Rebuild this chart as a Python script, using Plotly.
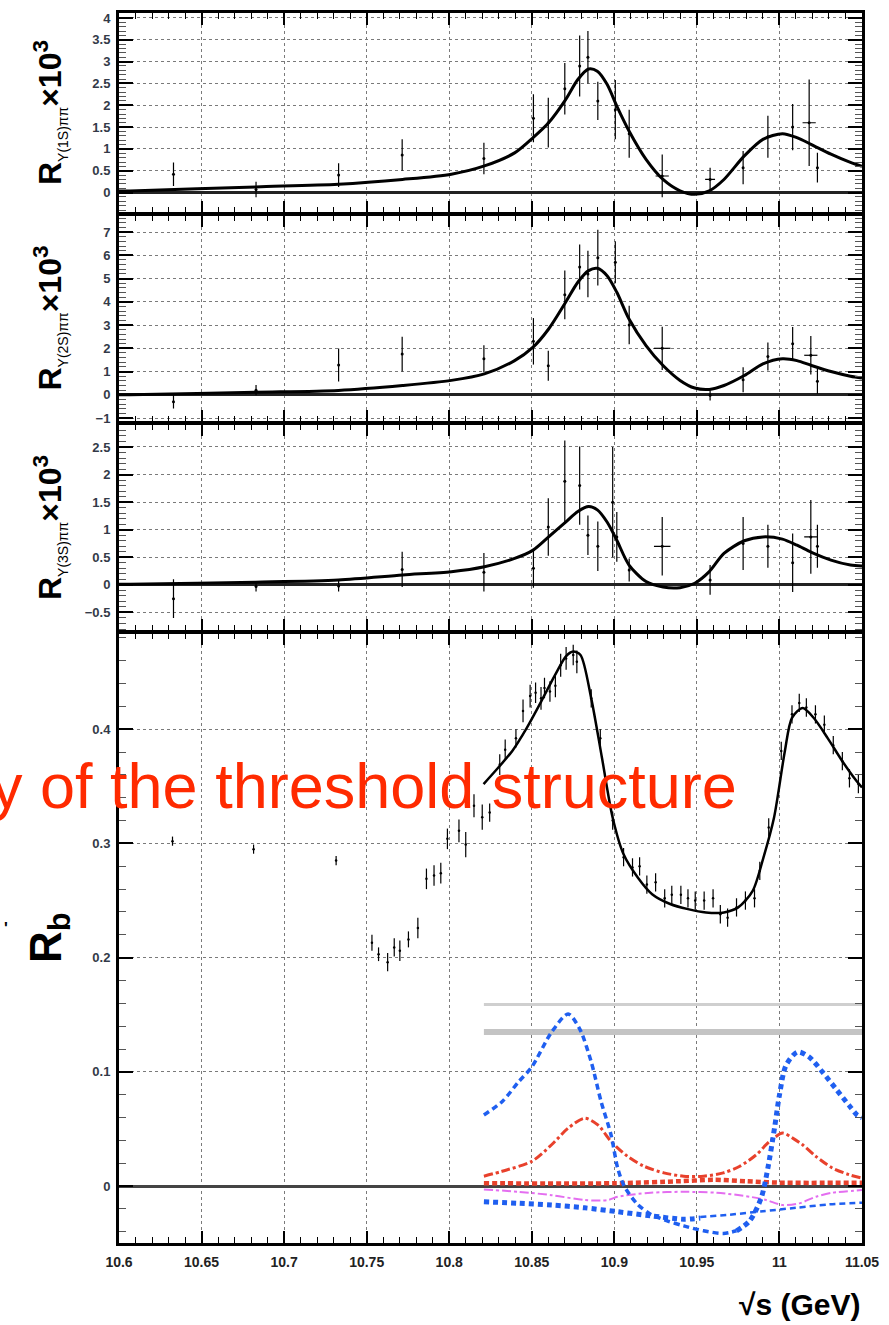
import plotly.graph_objects as go

# ---------------- data ----------------
# Panel 1: R_Y(1S)pipi x 10^3
x1 = [10.633, 10.683, 10.733, 10.7715, 10.821, 10.851, 10.860, 10.870, 10.879, 10.884,
      10.890, 10.9006, 10.909, 10.929, 10.958, 10.978, 10.993, 11.008, 11.018, 11.023]
y1 = [0.42, 0.07, 0.40, 0.86, 0.78, 1.70, 1.60, 2.38, 2.90, 3.10,
      2.10, 1.90, 1.35, 0.38, 0.30, 0.57, 1.28, 1.50, 1.60, 0.57]
e1 = [0.27, 0.18, 0.27, 0.36, 0.36, 0.55, 0.57, 0.59, 0.70, 0.60,
      0.44, 0.68, 0.55, 0.49, 0.27, 0.38, 0.48, 0.53, 0.99, 0.34]
ex1 = [0, 0, 0, 0, 0, 0, 0, 0, 0, 0, 0, 0, 0, 0.004, 0.003, 0, 0, 0, 0.004, 0]

fit1_x = [10.6, 10.6066, 10.6827, 10.7329, 10.7717, 10.8013, 10.8213, 10.8396, 10.8508, 10.8602,
          10.8705, 10.8779, 10.8844, 10.8897, 10.8956, 10.9015, 10.9089, 10.9192, 10.9295,
          10.9398, 10.9487, 10.9575, 10.9664, 10.9787, 10.9900, 11.0018, 11.0106, 11.0194,
          11.0312, 11.0430, 11.05]
fit1_y = [0.035, 0.038, 0.13, 0.19, 0.30, 0.42, 0.61, 0.91, 1.26, 1.60,
          2.13, 2.59, 2.83, 2.78, 2.48, 1.98, 1.41, 0.76, 0.30,
          0.04, -0.04, 0.04, 0.30, 0.84, 1.22, 1.35, 1.26, 1.10,
          0.88, 0.69, 0.60]

# Panel 2: R_Y(2S)pipi x 10^3
x2 = [10.633, 10.683, 10.733, 10.7715, 10.821, 10.851, 10.860, 10.870, 10.879, 10.884,
      10.890, 10.9006, 10.909, 10.929, 10.958, 10.978, 10.993, 11.008, 11.019, 11.023]
y2 = [-0.30, 0.20, 1.28, 1.75, 1.55, 2.30, 1.25, 4.30, 5.50, 5.20,
      5.90, 5.70, 3.00, 2.00, -0.02, 0.65, 1.65, 2.20, 1.70, 0.58]
e2 = [0.29, 0.22, 0.71, 0.75, 0.58, 1.00, 0.65, 1.05, 0.97, 1.00,
      1.20, 0.90, 0.83, 0.93, 0.22, 0.54, 0.60, 0.72, 0.83, 0.54]
ex2 = [0, 0, 0, 0, 0, 0, 0, 0, 0, 0, 0, 0, 0, 0.005, 0, 0, 0, 0, 0.004, 0]

fit2_x = fit1_x
fit2_y = [0.0, 0.0, 0.11, 0.19, 0.40, 0.62, 0.90, 1.47, 2.05, 2.83,
          3.98, 4.84, 5.34, 5.44, 5.12, 4.41, 3.26, 2.12, 1.26,
          0.62, 0.29, 0.23, 0.40, 0.83, 1.33, 1.55, 1.47, 1.26,
          1.00, 0.80, 0.72]

# Panel 3: R_Y(3S)pipi x 10^3
x3 = [10.633, 10.683, 10.733, 10.7715, 10.821, 10.851, 10.860, 10.870, 10.879, 10.884,
      10.890, 10.899, 10.9015, 10.909, 10.929, 10.958, 10.978, 10.993, 11.008, 11.019, 11.023]
y3 = [-0.25, -0.03, -0.02, 0.28, 0.23, 0.30, 1.05, 1.88, 1.80, 0.90,
      0.70, 1.50, 0.87, 0.27, 0.70, 0.09, 0.75, 0.70, 0.40, 0.87, 0.70]
e3 = [0.35, 0.09, 0.10, 0.32, 0.35, 0.35, 0.52, 0.74, 0.71, 0.36,
      0.45, 1.00, 0.45, 0.21, 0.53, 0.27, 0.48, 0.39, 0.53, 0.67, 0.39]
ex3 = [0, 0, 0, 0, 0, 0, 0, 0, 0, 0, 0, 0, 0, 0, 0.005, 0, 0, 0, 0, 0.004, 0]

fit3_x = fit1_x
fit3_y = [0.01, 0.01, 0.05, 0.09, 0.18, 0.24, 0.33, 0.48, 0.63, 0.87,
          1.14, 1.33, 1.42, 1.36, 1.14, 0.81, 0.36, 0.06, -0.04,
          -0.05, 0.03, 0.24, 0.57, 0.80, 0.87, 0.83, 0.72, 0.59,
          0.45, 0.36, 0.34]

# Panel 4: R_b
xb = [10.6324, 10.6815, 10.7315, 10.7532, 10.7572, 10.7627, 10.7667, 10.7701, 10.7753, 10.781,
      10.7862, 10.7908, 10.7949, 10.7989, 10.8059, 10.8100, 10.8150, 10.8200, 10.8245,
      10.8306, 10.8339, 10.8404, 10.8447, 10.8490, 10.8523, 10.8556, 10.8577, 10.8610, 10.8643,
      10.8675, 10.8708, 10.8751, 10.8773, 10.8860, 10.8915, 10.8990, 10.9056, 10.9110, 10.9153,
      10.9197, 10.9250, 10.9305, 10.9348, 10.9403, 10.9446, 10.9490, 10.9544, 10.9598, 10.9642,
      10.9686, 10.9740, 10.9794, 10.9849, 10.9881, 10.9935, 11.0011, 11.0076, 11.0120, 11.0163,
      11.0218, 11.0272, 11.0326, 11.0381, 11.0424, 11.0478]
yb = [0.302, 0.295, 0.285, 0.213, 0.203, 0.196, 0.209, 0.206, 0.216, 0.226,
      0.269, 0.272, 0.274, 0.304, 0.311, 0.299, 0.333, 0.323, 0.327,
      0.369, 0.382, 0.392, 0.416, 0.429, 0.432, 0.427, 0.436, 0.433, 0.438,
      0.456, 0.462, 0.465, 0.459, 0.427, 0.392, 0.320, 0.288, 0.279, 0.280,
      0.264, 0.266, 0.252, 0.255, 0.255, 0.252, 0.250, 0.250, 0.252, 0.238,
      0.235, 0.244, 0.250, 0.252, 0.276, 0.314, 0.381, 0.413, 0.423, 0.419,
      0.413, 0.404, 0.386, 0.372, 0.357, 0.352]
eb = [0.004, 0.004, 0.004, 0.007, 0.006, 0.008, 0.008, 0.009, 0.007, 0.009,
      0.009, 0.009, 0.009, 0.009, 0.010, 0.011, 0.010, 0.011, 0.008,
      0.009, 0.009, 0.008, 0.010, 0.010, 0.009, 0.010, 0.009, 0.009, 0.010,
      0.010, 0.010, 0.009, 0.010, 0.008, 0.008, 0.008, 0.008, 0.008, 0.008,
      0.008, 0.008, 0.008, 0.008, 0.008, 0.008, 0.008, 0.008, 0.008, 0.008,
      0.008, 0.008, 0.008, 0.008, 0.008, 0.008, 0.008, 0.008, 0.008, 0.008,
      0.008, 0.008, 0.008, 0.008, 0.008, 0.008]

fitb_x = [10.8208, 10.8295, 10.8382, 10.8469, 10.8556, 10.8643, 10.8708, 10.8751, 10.8795, 10.8860,
          10.8925, 10.8990, 10.9056, 10.9143, 10.9229, 10.9338, 10.9446, 10.9555, 10.9664, 10.9750,
          10.9838, 10.9903, 10.9967, 11.0033, 11.0076, 11.0141, 11.0207, 11.0293, 11.0381, 11.0467,
          11.0500]
fitb_y = [0.352, 0.366, 0.381, 0.401, 0.424, 0.448, 0.464, 0.468, 0.465, 0.427,
          0.375, 0.3225, 0.2905, 0.270, 0.2556, 0.247, 0.2425, 0.2396, 0.2396, 0.244,
          0.2585, 0.2876, 0.3225, 0.381, 0.410, 0.4186, 0.410, 0.392, 0.372, 0.3546,
          0.349]

# component curves (bottom panel)
blue1_x = [10.821, 10.832, 10.842, 10.850, 10.862, 10.872, 10.879, 10.886, 10.892, 10.898,
           10.902, 10.906, 10.914, 10.922, 10.932, 10.942, 10.954, 10.966, 10.974]
blue1_y = [0.0623, 0.0739, 0.0913, 0.1043, 0.1348, 0.1507, 0.1377, 0.1087, 0.0739, 0.0449,
           0.0159, 0.0, -0.0159, -0.0246, -0.0304, -0.0348, -0.0391, -0.0414, -0.0391]
blue2_x = [10.974, 10.982, 10.989, 10.993, 10.997, 11.000, 11.004, 11.011, 11.018, 11.026,
           11.034, 11.042, 11.047, 11.05]
blue2_y = [-0.0391, -0.0304, -0.0101, 0.0159, 0.0507, 0.0797, 0.1058, 0.1174, 0.1130, 0.1000,
           0.0855, 0.0710, 0.0623, 0.060]
bluelow_x = [10.821, 10.842, 10.862, 10.882, 10.902, 10.922, 10.942, 10.952]
bluelow_y = [-0.0137, -0.0150, -0.0166, -0.0190, -0.0224, -0.0260, -0.0290, -0.0280]
bluethin_x = [10.952, 10.970, 10.990, 11.010, 11.030, 11.050]
bluethin_y = [-0.0270, -0.0250, -0.0220, -0.0190, -0.0160, -0.0145]

red_x = [10.821, 10.832, 10.850, 10.862, 10.872, 10.882, 10.890, 10.898, 10.908, 10.918,
         10.930, 10.942, 10.954, 10.966, 10.976, 10.986, 10.994, 11.002, 11.008, 11.014,
         11.022, 11.032, 11.042, 11.050]
red_y = [0.0087, 0.0130, 0.0217, 0.0362, 0.0507, 0.0594, 0.0536, 0.0391, 0.0261, 0.0174,
         0.0116, 0.0087, 0.0087, 0.0116, 0.0174, 0.0275, 0.0391, 0.0464, 0.0420, 0.0362,
         0.0261, 0.0159, 0.0101, 0.0070]
redflat_x = [10.821, 10.900, 10.940, 10.960, 10.980, 11.000, 11.050]
redflat_y = [0.0025, 0.0025, 0.0043, 0.0055, 0.0043, 0.0030, 0.0030]

mag_x = [10.821, 10.842, 10.862, 10.882, 10.896, 10.902, 10.922, 10.942, 10.962, 10.982,
         10.992, 11.002, 11.012, 11.022, 11.032, 11.050]
mag_y = [-0.0029, -0.0050, -0.0079, -0.0122, -0.0122, -0.0093, -0.0058, -0.0050, -0.0058, -0.0093,
         -0.0122, -0.0166, -0.0151, -0.0093, -0.0058, -0.0035]

gray_x = [10.821, 11.05]
gray_thin_y = [0.159, 0.159]
gray_thick_y = [0.135, 0.135]

xticks = [10.6, 10.65, 10.7, 10.75, 10.8, 10.85, 10.9, 10.95, 11.0, 11.05]
xticklabels = ["10.6", "10.65", "10.7", "10.75", "10.8", "10.85", "10.9", "10.95", "11", "11.05"]

# ---------------- layout geometry ----------------
W, H = 889, 1325
ML, MR, MT, MB = 119, 24, 10, 82
PW = W - ML - MR
PH = H - MT - MB


def px_x(px):
    return (px - ML) / PW


def px_y(py):
    return (H - MB - py) / PH


panel_px = [(10, 210), (212, 420), (422, 630), (632, 1243)]
ranges = [[-0.457, 4.114], [-1.17, 7.755], [-0.845, 2.917], [-0.0498, 0.4838]]
ydticks = [0.5, 1, 0.5, 0.1]
yminor = [0.1, 0.2, 0.1, 0.02]
ytick0 = [0, 0, 0, 0]

fig = go.Figure()

BLK = "black"


def add_points(x, y, e, ex, n, msize=3):
    fig.add_trace(go.Scatter(
        x=x, y=y, mode="markers",
        marker=dict(color=BLK, size=msize),
        error_y=dict(type="data", array=e, visible=True, color=BLK, thickness=1.2, width=0),
        error_x=dict(type="data", array=ex, visible=True, color=BLK, thickness=1.2, width=0),
        xaxis="x" if n == 1 else f"x{n}", yaxis="y" if n == 1 else f"y{n}",
        showlegend=False, hoverinfo="skip"))


def add_line(x, y, n, color, width, dash="solid", shape="spline"):
    fig.add_trace(go.Scatter(
        x=x, y=y, mode="lines",
        line=dict(color=color, width=width, dash=dash, shape=shape, smoothing=0.8),
        xaxis="x" if n == 1 else f"x{n}", yaxis="y" if n == 1 else f"y{n}",
        showlegend=False, hoverinfo="skip"))


add_line(fit1_x, fit1_y, 1, BLK, 3)
add_points(x1, y1, e1, ex1, 1)
add_line(fit2_x, fit2_y, 2, BLK, 3)
add_points(x2, y2, e2, ex2, 2)
add_line(fit3_x, fit3_y, 3, BLK, 3)
add_points(x3, y3, e3, ex3, 3)

# bottom panel components
add_line(gray_x, gray_thin_y, 4, "#cfcfcf", 3, shape="linear")
add_line(gray_x, gray_thick_y, 4, "#c4c4c4", 6, shape="linear")
add_line(redflat_x, redflat_y, 4, "#e8412c", 4.5, dash="5px,3px")
add_line(mag_x, mag_y, 4, "#e46ef0", 2, dash="dashdot")
add_line(red_x, red_y, 4, "#e8412c", 3, dash="dashdot")
add_line(bluelow_x, bluelow_y, 4, "#1f5ff0", 5, dash="5px,4px")
add_line(bluethin_x, bluethin_y, 4, "#1f5ff0", 2.5, dash="6px,4px")
add_line(blue1_x, blue1_y, 4, "#1f5ff0", 3.5, dash="6px,4px")
add_line(blue2_x, blue2_y, 4, "#1f5ff0", 5, dash="5px,4px")
add_line(fitb_x, fitb_y, 4, BLK, 2.5)
add_points(xb, yb, eb, [0] * len(xb), 4, msize=2.5)

tickfont = dict(family="Liberation Sans, Arial, sans-serif", size=13, color="#333a48", weight="bold")

layout = dict(
    width=W, height=H, margin=dict(l=ML, r=MR, t=MT, b=MB),
    paper_bgcolor="white", plot_bgcolor="white", showlegend=False,
)

for i in range(4):
    n = i + 1
    t, b = panel_px[i]
    xa = dict(
        domain=[0, 1], range=[10.6, 11.05], anchor="y" if n == 1 else f"y{n}",
        showline=True, linecolor=BLK, linewidth=3, mirror="allticks",
        ticks="inside", ticklen=12, tickwidth=1.5, tickcolor=BLK,
        tickmode="array", tickvals=xticks, ticktext=xticklabels,
        showgrid=True, gridcolor="#7a7a7a", griddash="dot", gridwidth=1,
        zeroline=False, showticklabels=(n == 4),
        minor=dict(ticks="inside", ticklen=6, tickwidth=1, tickcolor=BLK, dtick=0.01, tick0=10.6, showgrid=False),
        tickfont=dict(family="Liberation Sans, Arial, sans-serif", size=14, color="#222", weight="bold"),
        ticklabelstandoff=4,
    )
    ya = dict(
        domain=[px_y(b), px_y(t)], range=ranges[i], anchor="x" if n == 1 else f"x{n}",
        showline=True, linecolor=BLK, linewidth=3, mirror="allticks",
        ticks="inside", ticklen=14, tickwidth=1.5, tickcolor=BLK,
        dtick=ydticks[i], tick0=ytick0[i],
        showgrid=True, gridcolor="#7a7a7a", griddash="dot", gridwidth=1,
        zeroline=True, zerolinecolor="#222" if n < 4 else "#444", zerolinewidth=2.5,
        minor=dict(ticks="inside", ticklen=7, tickwidth=1, tickcolor="#555", dtick=yminor[i], showgrid=False),
        tickfont=tickfont, ticklabelstandoff=3,
    )
    if n == 4:
        ya["tickvals"] = [0, 0.1, 0.2, 0.3, 0.4]
        ya["ticktext"] = ["0", "0.1", "0.2", "0.3", "0.4"]
        ya["tickmode"] = "array"
    layout["xaxis" if n == 1 else f"xaxis{n}"] = xa
    layout["yaxis" if n == 1 else f"yaxis{n}"] = ya

fig.update_layout(**layout)

title_font = dict(family="Liberation Sans, Arial, sans-serif", size=32, color=BLK)
titles = [
    ("<b>R</b><sub><span style='font-size:14px'>Υ(1S)ππ</span></sub><b>×10<sup>3</sup></b>", 110),
    ("<b>R</b><sub><span style='font-size:14px'>Υ(2S)ππ</span></sub><b>×10<sup>3</sup></b>", 316),
    ("<b>R</b><sub><span style='font-size:14px'>Υ(3S)ππ</span></sub><b>×10<sup>3</sup></b>", 526),
]
annotations = []
for txt, yc in titles:
    annotations.append(dict(
        text=txt, x=px_x(49), y=px_y(yc), xref="paper", yref="paper",
        xanchor="center", yanchor="middle", textangle=-90, showarrow=False, font=title_font))

annotations.append(dict(
    text="<b>R<sub>b</sub></b>", x=px_x(48), y=px_y(937), xref="paper", yref="paper",
    xanchor="center", yanchor="middle", textangle=-90, showarrow=False,
    font=dict(family="Liberation Sans, Arial, sans-serif", size=44, color=BLK)))
annotations.append(dict(
    text="<b>'</b>", x=px_x(6), y=px_y(928), xref="paper", yref="paper",
    xanchor="center", yanchor="middle", showarrow=False,
    font=dict(family="Liberation Sans, Arial, sans-serif", size=16, color=BLK)))
annotations.append(dict(
    text="<b>√s (GeV)</b>", x=px_x(866), y=px_y(1305), xref="paper", yref="paper",
    xanchor="right", yanchor="middle", showarrow=False,
    font=dict(family="Liberation Sans, Arial, sans-serif", size=30, color=BLK)))
annotations.append(dict(
    text="y of the threshold structure", x=px_x(742), y=px_y(785), xref="paper", yref="paper",
    xanchor="right", yanchor="middle", showarrow=False,
    font=dict(family="Liberation Sans, Arial, sans-serif", size=63, color="#ff2a00")))

fig.update_layout(annotations=annotations)

fig.write_html("out.html")
